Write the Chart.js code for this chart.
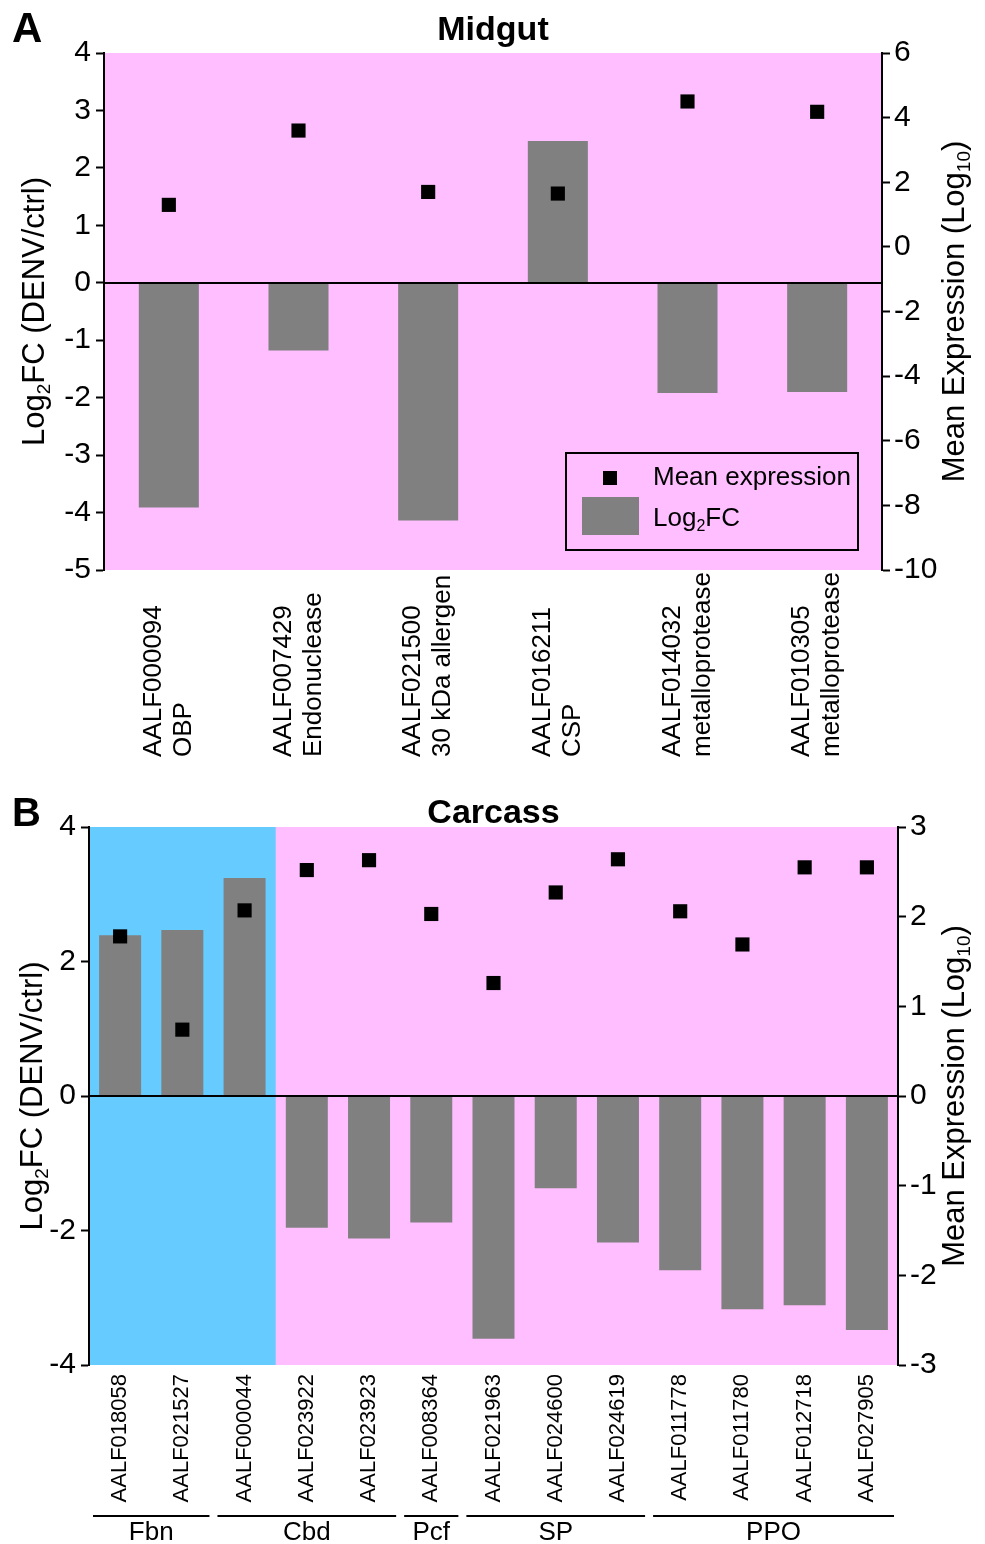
<!DOCTYPE html>
<html><head><meta charset="utf-8">
<script src="https://cdn.jsdelivr.net/npm/chart.js@4.4.0/dist/chart.umd.min.js"></script>
<style>
html,body{margin:0;padding:0;background:#fff;}
#wrapA{position:absolute;left:0;top:0;width:985px;height:775px;}
#wrapB{position:absolute;left:0;top:780px;width:985px;height:764px;}
canvas{display:block;}
</style></head><body>
<div id="wrapA"><canvas id="chartA" width="985" height="775"></canvas></div>
<div id="wrapB"><canvas id="chartB" width="985" height="764"></canvas></div>
<script>
// ---------- Panel A: Midgut ----------
const midgutIds = ['AALF000094','AALF007429','AALF021500','AALF016211','AALF014032','AALF010305'];
const midgutNames = ['OBP','Endonuclease','30 kDa allergen','CSP','metalloprotease','metalloprotease'];
const midgutLog2FC = [-3.91, -1.18, -4.14, 2.47, -1.92, -1.90];
const midgutMeanExpr = [1.30, 3.60, 1.70, 1.65, 4.50, 4.18];
const midgutLeftAxis = [-5, 4, 1];    // min, max, step
const midgutRightAxis = [-10, 6, 2];  // min, max, step

// ---------- Panel B: Carcass ----------
const carcassIds = ['AALF018058','AALF021527','AALF000044','AALF023922','AALF023923','AALF008364','AALF021963','AALF024600','AALF024619','AALF011778','AALF011780','AALF012718','AALF027905'];
const carcassLog2FC = [2.39, 2.47, 3.24, -1.96, -2.12, -1.88, -3.61, -1.37, -2.18, -2.59, -3.17, -3.11, -3.48];
const carcassMeanExpr = [1.78, 0.74, 2.07, 2.52, 2.63, 2.03, 1.26, 2.27, 2.64, 2.06, 1.69, 2.55, 2.55];
const carcassLeftAxis = [-4, 4, 2];
const carcassRightAxis = [-3, 3, 1];
const carcassBlueCategories = [0, 1, 2];
const groupNames = ['Fbn', 'Cbd', 'Pcf', 'SP', 'PPO'];
const groupFirst = [0, 2, 5, 6, 9];
const groupLast = [1, 4, 5, 8, 12];

const FONT = "'Liberation Sans', Arial, Helvetica, sans-serif";
const PINK = '#FFBEFF';
const BLUE = '#66CCFF';
const GRAY = '#808080';

function partsWidth(ctx, parts, size) {
  let w = 0;
  for (const p of parts) {
    ctx.font = (p.sub ? Math.round(size * 0.62) : size) + 'px ' + FONT;
    w += ctx.measureText(p.t).width;
  }
  return w;
}
function drawParts(ctx, parts, x, y, size) {
  ctx.textAlign = 'left';
  ctx.textBaseline = 'middle';
  let cx = x;
  for (const p of parts) {
    const s = p.sub ? Math.round(size * 0.62) : size;
    ctx.font = s + 'px ' + FONT;
    ctx.fillText(p.t, cx, p.sub ? y + size * 0.3 : y);
    cx += ctx.measureText(p.t).width;
  }
}
function drawVertical(ctx, parts, cx, cy, size) {
  ctx.save();
  ctx.translate(cx, cy);
  ctx.rotate(-Math.PI / 2);
  const w = partsWidth(ctx, parts, size);
  ctx.fillStyle = '#000';
  drawParts(ctx, parts, -w / 2, 0, size);
  ctx.restore();
}

const leftTitle = [{t:'Log'},{t:'2',sub:true},{t:'FC (DENV/ctrl)'}];
const rightTitle = [{t:'Mean Expression (Log'},{t:'10',sub:true},{t:')'}];

const decorPlugin = {
  id: 'decor',
  beforeDraw(chart, args, opts) {
    const {ctx, chartArea: a, scales} = chart;
    ctx.save();
    ctx.fillStyle = PINK;
    ctx.fillRect(a.left, a.top, a.right - a.left, a.bottom - a.top);
    if (opts.blue && opts.blue.length) {
      const x = scales.x;
      const half = (x.getPixelForValue(1) - x.getPixelForValue(0)) / 2;
      const x0 = x.getPixelForValue(opts.blue[0]) - half;
      const x1 = x.getPixelForValue(opts.blue[opts.blue.length - 1]) + half;
      ctx.fillStyle = BLUE;
      ctx.fillRect(x0, a.top, x1 - x0, a.bottom - a.top);
    }
    ctx.restore();
  },
  afterDatasetsDraw(chart) {
    const {ctx, chartArea: a, scales} = chart;
    const y0 = Math.round(scales.y.getPixelForValue(0));
    ctx.save();
    ctx.strokeStyle = '#000';
    ctx.lineWidth = 2;
    ctx.beginPath();
    ctx.moveTo(a.left, y0);
    ctx.lineTo(a.right, y0);
    ctx.stroke();
    ctx.restore();
  },
  afterDraw(chart, args, opts) {
    const {ctx, chartArea: a, scales} = chart;
    ctx.save();
    ctx.fillStyle = '#000';
    ctx.textBaseline = 'alphabetic';
    ctx.textAlign = 'left';
    ctx.font = 'bold ' + opts.letterSize + 'px ' + FONT;
    ctx.fillText(opts.letter, 12, opts.letterY);
    ctx.textAlign = 'center';
    ctx.font = 'bold 34px ' + FONT;
    ctx.fillText(opts.title, (a.left + a.right) / 2, opts.titleY);
    const cy = (a.top + a.bottom) / 2;
    drawVertical(ctx, leftTitle, opts.leftTitleX, cy, 31);
    drawVertical(ctx, rightTitle, opts.rightTitleX, cy, 31);
    const x = scales.x;
    const labels = chart.data.labels;
    for (let i = 0; i < labels.length; i++) {
      const px = x.getPixelForValue(i);
      const lines = Array.isArray(labels[i]) ? labels[i] : [labels[i]];
      ctx.save();
      ctx.font = opts.labelSize + 'px ' + FONT;
      ctx.textBaseline = 'middle';
      ctx.translate(px, a.bottom + opts.labelOffset);
      ctx.rotate(-Math.PI / 2);
      if (opts.labelAlign === 'bottom') {
        ctx.textAlign = 'left';
        const n = lines.length;
        for (let k = 0; k < n; k++) {
          ctx.fillText(lines[k], 0, (k - (n - 1) / 2) * opts.lineGap);
        }
      } else {
        ctx.textAlign = 'right';
        ctx.fillText(lines[0], 0, 0);
      }
      ctx.restore();
    }
    if (opts.groups) {
      const half = (x.getPixelForValue(1) - x.getPixelForValue(0)) / 2;
      const gy = a.bottom + 151;
      ctx.strokeStyle = '#000';
      ctx.lineWidth = 2;
      ctx.font = '26px ' + FONT;
      ctx.textAlign = 'center';
      ctx.textBaseline = 'middle';
      for (let g = 0; g < groupNames.length; g++) {
        const x0 = x.getPixelForValue(groupFirst[g]) - half + 4;
        const x1 = x.getPixelForValue(groupLast[g]) + half - 4;
        ctx.beginPath();
        ctx.moveTo(x0, gy);
        ctx.lineTo(x1, gy);
        ctx.stroke();
        ctx.fillText(groupNames[g], (x0 + x1) / 2, gy + 17);
      }
    }
    if (opts.legend) {
      const bx1 = a.right - 24, by1 = a.bottom - 20;
      const bx0 = bx1 - 292, by0 = by1 - 97;
      ctx.lineWidth = 2;
      ctx.strokeStyle = '#000';
      ctx.strokeRect(bx0, by0, bx1 - bx0, by1 - by0);
      ctx.fillStyle = '#000';
      ctx.fillRect(bx0 + 37, by0 + 18, 14, 14);
      ctx.fillStyle = GRAY;
      ctx.fillRect(bx0 + 16, by0 + 44, 57, 38);
      ctx.fillStyle = '#000';
      drawParts(ctx, [{t: chart.data.datasets[0].label}], bx0 + 87, by0 + 25, 26);
      drawParts(ctx, [{t:'Log'},{t:'2',sub:true},{t:'FC'}], bx0 + 87, by0 + 66, 26);
    }
    ctx.restore();
  }
};

function yAxis(range, position, width, pad) {
  return {
    type: 'linear',
    position: position,
    min: range[0], max: range[1],
    afterFit: s => { s.width = width; },
    afterBuildTicks: s => {
      const t = [];
      for (let v = range[0]; v <= range[1] + 1e-9; v += range[2]) t.push({value: v});
      s.ticks = t;
    },
    ticks: { stepSize: range[2], color: '#000', font: {family: FONT, size: 30}, padding: pad },
    grid: { display: true, drawOnChartArea: false, drawTicks: true, tickLength: 8, tickWidth: 2, color: '#000', tickColor: '#000' },
    border: { display: true, color: '#000', width: 2 }
  };
}

function makeChart(id, labels, fc, mean, left, right, cfg) {
  return new Chart(document.getElementById(id), {
    type: 'bar',
    data: {
      labels: labels,
      datasets: [
        { type: 'line', label: 'Mean expression', data: mean, yAxisID: 'y1', showLine: false,
          pointStyle: 'rect', pointRadius: 10, pointHoverRadius: 10, backgroundColor: '#000',
          borderColor: '#000', borderWidth: 0, order: 1 },
        { type: 'bar', label: 'Log2FC', data: fc, yAxisID: 'y', backgroundColor: GRAY,
          borderWidth: 0, barPercentage: cfg.barPct, categoryPercentage: 1, order: 2 }
      ]
    },
    options: {
      responsive: false,
      animation: false,
      layout: { padding: { top: cfg.top, left: 0, right: 0, bottom: 0 } },
      scales: {
        x: { type: 'category', offset: true,
             afterFit: s => { s.height = cfg.xHeight; },
             ticks: { display: false }, grid: { display: false }, border: { display: false } },
        y: yAxis(left, 'left', cfg.leftW, 5),
        y1: yAxis(right, 'right', cfg.rightW, 4)
      },
      plugins: {
        legend: { display: false },
        tooltip: { enabled: false },
        decor: cfg.decor
      }
    },
    plugins: [decorPlugin]
  });
}

makeChart('chartA', midgutIds.map((id, i) => [id, midgutNames[i]]), midgutLog2FC, midgutMeanExpr,
  midgutLeftAxis, midgutRightAxis,
  { barPct: 0.463, top: 53, xHeight: 205, leftW: 104, rightW: 103,
    decor: { letter: 'A', letterSize: 42, letterY: 42, title: 'Midgut', titleY: 40,
             leftTitleX: 35, rightTitleX: 955, labelAlign: 'bottom', labelOffset: 187,
             labelSize: 26, lineGap: 30, legend: true } });

makeChart('chartB', carcassIds, carcassLog2FC, carcassMeanExpr,
  carcassLeftAxis, carcassRightAxis,
  { barPct: 0.675, top: 47, xHeight: 179, leftW: 89, rightW: 87,
    decor: { letter: 'B', letterSize: 40, letterY: 46, title: 'Carcass', titleY: 43,
             leftTitleX: 33, rightTitleX: 955, labelAlign: 'top', labelOffset: 9,
             labelSize: 22, blue: carcassBlueCategories, groups: true } });
</script>
</body></html>
